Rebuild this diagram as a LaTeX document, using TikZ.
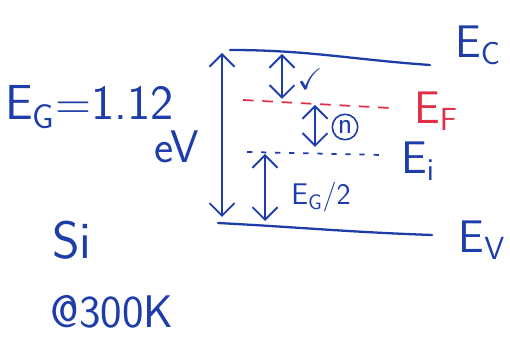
\documentclass[tikz,border=0pt]{standalone}
\usepackage{amsmath,amssymb}
\usepackage{xcolor}
\usepackage{tikz}
\usetikzlibrary{arrows.meta, positioning, calc}

\definecolor{penblue}{RGB}{30,60,170}
\definecolor{penred}{RGB}{225,45,70}

\begin{document}
\begin{tikzpicture}[
    band/.style={penblue, line width=1.3pt, line cap=round},
    fermi/.style={penred, line width=1pt, dash pattern=on 6pt off 5pt},
    intrinsic/.style={penblue, line width=1pt, dash pattern=on 3pt off 5pt},
    gap/.style={{Straight Barb[length=2.5mm]}-{Straight Barb[length=2.5mm]}, penblue, line width=1.1pt},
    lbl/.style={penblue, font=\sffamily\fontsize{26}{28}\selectfont, inner sep=0pt},
    smalllbl/.style={penblue, font=\sffamily\fontsize{17}{19}\selectfont, inner sep=0pt}
]
\useasboundingbox (0,0) rectangle (10.2,7.2);

% Band edges
\coordinate (ec1) at (4.6,6.2);
\coordinate (ec2) at (8.6,5.9);
\coordinate (ev1) at (4.36,2.74);
\coordinate (ev2) at (8.64,2.5);
\draw[band] (ec1) to[out=0,in=176] (ec2);
\draw[band] (ev1) to[out=-3,in=178] (ev2);
\node[lbl] (eclabel) at (9.56,6.3) {E$_\text{C}$};
\node[lbl] (evlabel) at (9.64,2.4) {E$_\text{V}$};

% Fermi and intrinsic levels
\coordinate (ef1) at (4.86,5.2);
\coordinate (ef2) at (7.8,5.04);
\coordinate (ei1) at (4.94,4.16);
\coordinate (ei2) at (7.64,4.1);
\draw[fermi] (ef1) -- (ef2);
\draw[intrinsic] (ei1) -- (ei2);
\node[lbl, text=penred] (eflabel) at (8.72,4.98) {E$_\text{F}$};
\node[lbl] (eilabel) at (8.36,3.98) {E$_\text{i}$};

% Gap arrows
\coordinate (gtop) at (4.44,6.14);
\coordinate (gbot) at (4.44,2.86);
\draw[gap] (gtop) -- (gbot);

\coordinate (a1) at (5.64,6.12);
\coordinate (a2) at (5.64,5.22);
\draw[gap] (a1) -- (a2);
\node[smalllbl] (chk) at (6.2,5.62) {$\checkmark$};

\coordinate (b1) at (6.3,5.1);
\coordinate (b2) at (6.3,4.26);
\draw[gap] (b1) -- (b2);
\node[smalllbl, circle, draw=penblue, line width=0.9pt, inner sep=1.2pt] (nmark) at (6.9,4.66) {n};

\coordinate (c1) at (5.3,4.12);
\coordinate (c2) at (5.3,2.78);
\draw[gap] (c1) -- (c2);
\node[smalllbl] (halfgap) at (6.42,3.26) {E$_\text{G}$/2};

% Material data
\node[lbl, font=\sffamily\fontsize{28}{30}\selectfont, anchor=west] (eg) at (0.1,5.05) {E$_\text{G}$=1.12};
\node[lbl] (ev) at (3.54,4.26) {eV};
\node[lbl, font=\sffamily\fontsize{30}{32}\selectfont] (si) at (1.44,2.4) {Si};
\node[lbl] (temp) at (2.24,0.96) {@300K};

\end{tikzpicture}
\end{document}
